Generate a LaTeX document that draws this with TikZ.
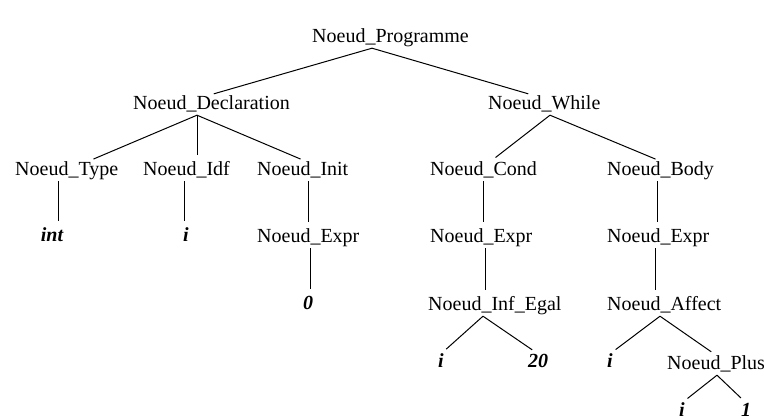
\documentclass[tikz,border=0pt]{standalone}
\usepackage{fontspec}
\setmainfont{Liberation Serif}
\usetikzlibrary{
  calc
}
\tikzset{
%
  % For the inner nodes of the tree.
  noeud/.style={
    anchor=base west,
    inner sep=0pt,
    text height=14pt,
    text depth=5pt,
    font=\fontsize{20}{24}\selectfont},
%
  % For the leaves of the tree.
  leaf/.style={
    noeud,
    anchor=base,
    font=\fontsize{20}{24}\selectfont\bfseries\itshape},
%
  % For the branches.
  branch/.style={
    line width=1pt,
    shorten >=7pt}
}

\begin{document}
\begin{tikzpicture}[x=1pt,y=-1pt]
  \useasboundingbox (0,0) rectangle (764,419);

  \node[noeud] (P) at (312,43) {Noeud\_Programme};

  \node[noeud] (D) at (133,110) {Noeud\_Declaration};
  \node[noeud] (W) at (488,110) {Noeud\_While};

  \node[noeud] (T) at (15,176) {Noeud\_Type};
  \node[noeud] (I) at (143,176) {Noeud\_Idf};
  \node[noeud] (N) at (257,176) {Noeud\_Init};
  \node[noeud] (C) at (430,176) {Noeud\_Cond};
  \node[noeud] (B) at (607,176) {Noeud\_Body};

  \node[leaf] (int) at (52,242) {int};
  \node[leaf] (i1) at (186,242) {i};
  \node[noeud] (EN) at (257,243) {Noeud\_Expr};
  \node[noeud] (EC) at (430,243) {Noeud\_Expr};
  \node[noeud] (EB) at (607,243) {Noeud\_Expr};

  \node[leaf] (zero) at (308,310) {0};
  \node[noeud] (IE) at (428,311) {Noeud\_Inf\_Egal};
  \node[noeud] (A) at (607,311) {Noeud\_Affect};

  \node[leaf] (i2) at (441,368) {i};
  \node[leaf] (twenty) at (538,368) {20};
  \node[leaf] (i3) at (610,368) {i};
  \node[noeud] (PL) at (667,370) {Noeud\_Plus};

  \node[leaf] (i4) at (682,417) {i};
  \node[leaf] (one) at (746,417) {1};

  % Programme
  \draw[branch] ([xshift=60pt]P.south west) -- ([xshift=74pt]D.north west);
  \draw[branch] ([xshift=60pt]P.south west) -- ([xshift=47pt]W.north west);

  % Declaration
  \draw[branch] ([xshift=64pt]D.south west) -- ([xshift=72pt]T.north west);
  \draw[branch] ([xshift=64pt]D.south west) -- ([xshift=54pt]I.north west);
  \draw[branch] ([xshift=64pt]D.south west) -- ([xshift=50pt]N.north west);
  \draw[branch] ([xshift=43pt]T.south west) -- ([xshift=6pt]int.north);
  \draw[branch] ([xshift=41pt]I.south west) -- ([xshift=-2pt]i1.north);
  \draw[branch] ([xshift=51pt]N.south west) -- ([xshift=51pt]EN.north west);
  \draw[branch] ([xshift=53pt]EN.south west) -- ([xshift=2pt]zero.north);

  % While
  \draw[branch] ([xshift=62pt]W.south west) -- ([xshift=60pt]C.north west);
  \draw[branch] ([xshift=62pt]W.south west) -- ([xshift=55pt]B.north west);
  \draw[branch] ([xshift=53pt]C.south west) -- ([xshift=53pt]EC.north west);
  \draw[branch] ([xshift=55pt]EC.south west) -- ([xshift=57pt]IE.north west);
  \draw[branch] ([xshift=55pt]IE.south west) -- (i2.north);
  \draw[branch] ([xshift=55pt]IE.south west) -- (twenty.north);
  \draw[branch] ([xshift=50pt]B.south west) -- ([xshift=50pt]EB.north west);
  \draw[branch] ([xshift=48pt]EB.south west) -- ([xshift=48pt]A.north west);
  \draw[branch] ([xshift=53pt]A.south west) -- (i3.north);
  \draw[branch] ([xshift=53pt]A.south west) -- ([xshift=50pt]PL.north west);
  \draw[branch] ([xshift=50pt]PL.south west) -- (i4.north);
  \draw[branch] ([xshift=50pt]PL.south west) -- (one.north);
\end{tikzpicture}
\end{document}
